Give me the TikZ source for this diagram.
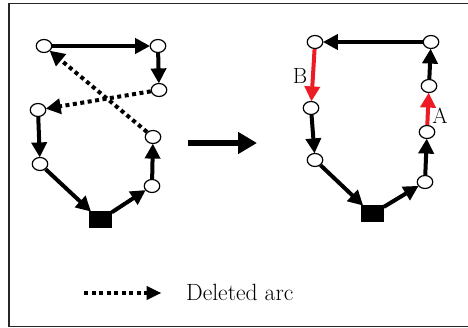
\documentclass[tikz,border=0pt]{standalone}
\usetikzlibrary{arrows.meta,shapes.geometric}
\definecolor{arcred}{RGB}{237,28,36}
\begin{document}
\begin{tikzpicture}[x=1pt,y=-1pt,
  vtx/.style={draw=black,line width=1.2pt,fill=white,ellipse,minimum width=15.5pt,minimum height=13pt,inner sep=0pt},
  depot/.style={fill=black,minimum width=23pt,minimum height=17pt,inner sep=0pt},
  arc/.style={line width=4pt,-{Triangle[length=15pt,width=15pt]},shorten >=-0.5pt},
  delarc/.style={arc,dash pattern=on 4pt off 3.5pt},
  redarc/.style={arc,draw=arcred,-{Triangle[length=15pt,width=15pt,fill=arcred]}},
  lbl/.style={font=\fontsize{22}{26}\selectfont,inner sep=0pt}
]
\useasboundingbox (0,0) rectangle (468,328);
\begin{scope}
\clip (0,0) rectangle (468,328);
\draw[line width=1.4pt,draw=black!85] (468,3.5) -- (9,3.5) -- (9,326.5) -- (468,326.5);
\end{scope}
% left graph
\node[vtx] (a1) at (44,46) {};
\node[vtx] (a2) at (158,46) {};
\node[vtx] (a3) at (159,90) {};
\node[vtx] (a4) at (38,110) {};
\node[vtx] (a5) at (40,164) {};
\node[vtx] (a6) at (153,137) {};
\node[vtx] (a7) at (152,186) {};
\node[depot] (as) at (100,220) {};
\draw[arc] (a1) -- (a2);
\draw[arc] (a2) -- (a3);
\draw[delarc] (a3) -- (a4);
\draw[delarc] (a6) -- (a1);
\draw[arc] (a4) -- (a5);
\draw[arc] (a5) -- (as);
\draw[arc] (as) -- (a7);
\draw[arc] (a7) -- (a6);
% transform arrow
\coordinate (t1) at (188,143);
\coordinate (t2) at (257,143);
\draw[line width=5.5pt,-{Triangle[length=19pt,width=21pt]}] (t1) -- (t2);
% right graph
\node[vtx] (b1) at (315,42) {};
\node[vtx] (b2) at (431,42) {};
\node[vtx] (b3) at (429,86) {};
\node[vtx] (b4) at (427,132) {};
\node[vtx] (b5) at (425,182) {};
\node[vtx] (b6) at (311,108) {};
\node[vtx] (b7) at (315,160) {};
\node[depot] (bs) at (372,214) {};
\draw[arc] (b2) -- (b1);
\draw[redarc] (b1) -- (b6);
\draw[arc] (b6) -- (b7);
\draw[arc] (b7) -- (bs);
\draw[arc] (bs) -- (b5);
\draw[arc] (b5) -- (b4);
\draw[redarc] (b4) -- (b3);
\draw[arc] (b3) -- (b2);
\node[lbl] (lb) at (300,76) {B};
\node[lbl] (la) at (440,116) {A};
% legend
\coordinate (l1) at (84,293);
\coordinate (l2) at (161,293);
\draw[delarc,-{Triangle[length=15pt,width=13pt]}] (l1) -- (l2);
\node[lbl,anchor=west,font=\fontsize{23.5}{28}\selectfont] (lt) at (186,292) {Deleted arc};
\end{tikzpicture}
\end{document}
